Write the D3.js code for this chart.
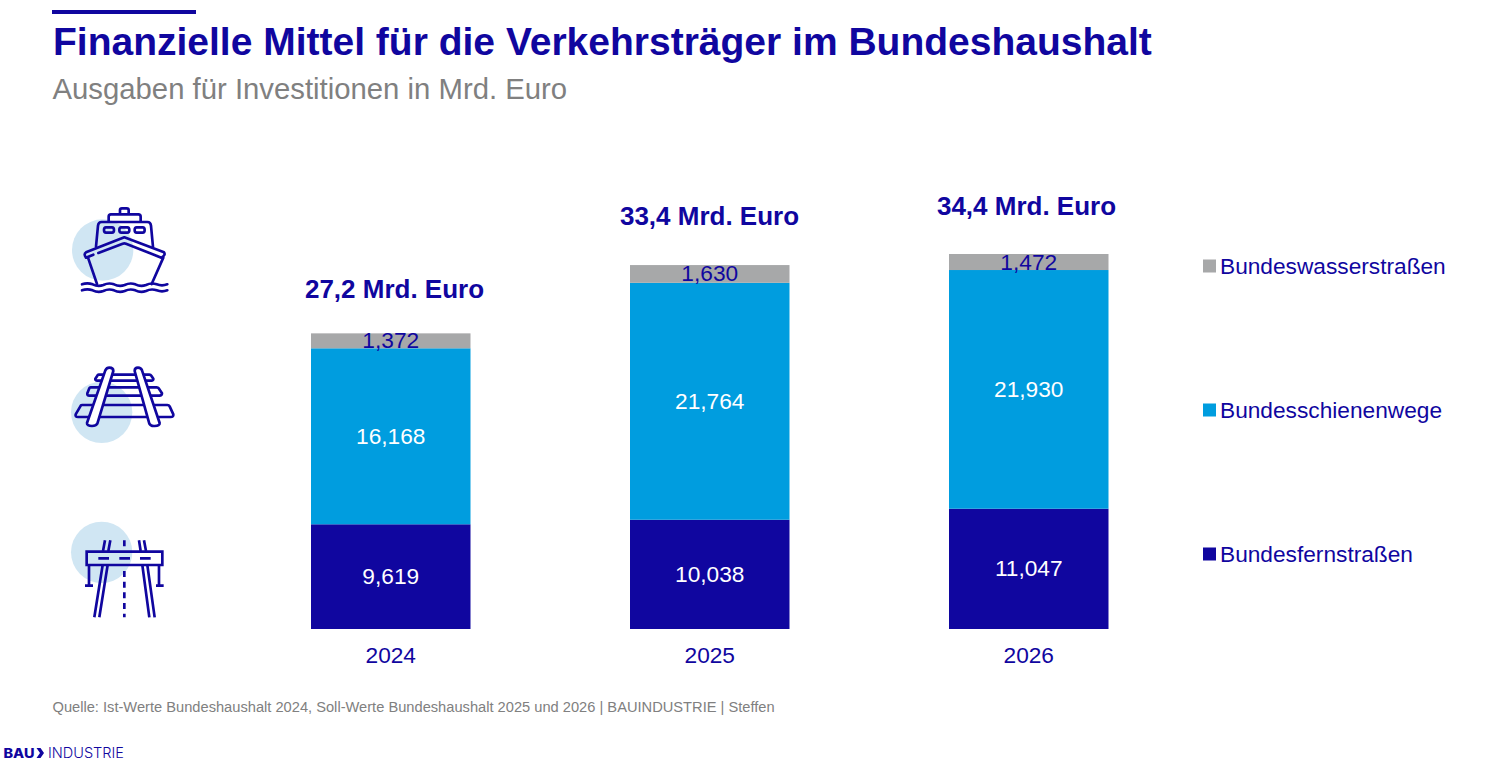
<!DOCTYPE html>
<html>
<head>
<meta charset="utf-8">
<script src="https://cdn.jsdelivr.net/npm/d3@7"></script>
<style>
  html, body { margin: 0; padding: 0; background: #fff; }
  svg { display: block; font-family: "Liberation Sans", Arial, sans-serif; }
</style>
</head>
<body>
<svg id="chart" width="1497" height="775"></svg>
<script>
var years = ["2024", "2025", "2026"]
var fernstrassen = [9619, 10038, 11047]
var schienenwege = [16168, 21764, 21930]
var wasserstrassen = [1372, 1630, 1472]
var totalLabels = ["27,2 Mrd. Euro", "33,4 Mrd. Euro", "34,4 Mrd. Euro"]
var seriesNames = ["Bundesfernstraßen", "Bundesschienenwege", "Bundeswasserstraßen"]

var navy = "#10069f", sky = "#009ddf", grey = "#a7a8a9", muted = "#808080", pale = "#d0e6f3"
var seriesColors = [navy, sky, grey]
var labelColors = ["#fff", "#fff", navy]

// total labels are hand placed in the original, not quite centered
var totalGaps = [35, 40, 39]
var totalShift = [3.75, -0.25, -2.25]
var legendY = [554, 410, 266]

var svg = d3.select("#chart")

var rows = years.map(function(y, i) {
  return { year: y, s0: fernstrassen[i], s1: schienenwege[i], s2: wasserstrassen[i] }
})
var stacked = d3.stack().keys(["s0", "s1", "s2"])(rows)

var x = d3.scaleBand().domain(years).range([231.25, 1188.25]).paddingInner(0.5).paddingOuter(0.25)
var y = d3.scaleLinear().domain([0, 35000]).range([629, 248])

// header
svg.append("rect").attr("x", 52).attr("y", 10).attr("width", 144).attr("height", 4).attr("fill", navy)
svg.append("text").attr("x", 53).attr("y", 55).attr("fill", navy)
  .style("font-size", "39px").style("font-weight", "bold")
  .text("Finanzielle Mittel für die Verkehrsträger im Bundeshaushalt")
svg.append("text").attr("x", 52.5).attr("y", 99).attr("fill", muted)
  .style("font-size", "29.3px")
  .text("Ausgaben für Investitionen in Mrd. Euro")

// stacked bars
var layers = svg.selectAll("g.layer").data(stacked).enter().append("g").attr("class", "layer")

layers.selectAll("rect")
  .data(function(d) { return d.map(function(p) { return { p: p, key: d.key } }) })
  .enter().append("rect")
  .attr("x", function(d) { return x(d.p.data.year) })
  .attr("width", x.bandwidth())
  .attr("y", function(d) { return y(d.p[1]) })
  .attr("height", function(d) { return y(d.p[0]) - y(d.p[1]) })
  .attr("fill", function(d) { return seriesColors[d.key.slice(1)] })

layers.selectAll("text")
  .data(function(d) { return d.map(function(p) { return { p: p, key: d.key } }) })
  .enter().append("text")
  .attr("x", function(d) { return x(d.p.data.year) + x.bandwidth() / 2 })
  .attr("y", function(d) { return (y(d.p[0]) + y(d.p[1])) / 2 })
  .attr("dy", ".33em")
  .attr("text-anchor", "middle")
  .attr("fill", function(d) { return labelColors[d.key.slice(1)] })
  .style("font-size", "22.7px")
  .text(function(d) { return d3.format(",")(d.p[1] - d.p[0]) })

// totals on top
svg.selectAll("text.total").data(rows).enter().append("text")
  .attr("class", "total")
  .attr("x", function(d, i) { return x(d.year) + x.bandwidth() / 2 + totalShift[i] })
  .attr("y", function(d, i) { return y(d.s0 + d.s1 + d.s2) - totalGaps[i] })
  .attr("text-anchor", "middle")
  .attr("fill", navy)
  .style("font-size", "26px").style("font-weight", "bold")
  .text(function(d, i) { return totalLabels[i] })

// x axis, labels only
var axis = svg.append("g").attr("transform", "translate(0,629)")
  .call(d3.axisBottom(x).tickSize(0).tickPadding(18))
axis.select(".domain").remove()
axis.selectAll("text").attr("fill", navy).style("font-size", "22.7px").style("font-family", "inherit")

// legend
var leg_keys = svg.selectAll("g.key").data(seriesNames).enter().append("g")
  .attr("class", "key")
  .attr("transform", function(d, i) { return "translate(1203," + legendY[i] + ")" })
leg_keys.append("rect").attr("y", -6.5).attr("width", 13).attr("height", 13)
  .attr("fill", function(d, i) { return seriesColors[i] })
leg_keys.append("text").attr("x", 17).attr("dy", ".33em").attr("fill", navy)
  .style("font-size", "22.7px")
  .text(function(d) { return d })

// source + logo
svg.append("text").attr("x", 52.5).attr("y", 712).attr("fill", muted)
  .style("font-size", "14.66px")
  .text("Quelle: Ist-Werte Bundeshaushalt 2024, Soll-Werte Bundeshaushalt 2025 und 2026 | BAUINDUSTRIE | Steffen")

svg.append("text").attr("x", 3.5).attr("y", 758).attr("fill", navy)
  .style("font-family", "Inter").style("font-size", "13.5px").style("font-weight", "800")
  .attr("textLength", 31).attr("lengthAdjust", "spacingAndGlyphs").text("BAU")
svg.append("path").attr("d", "M36.5 748 L40 753 L36.5 758 H40.5 L44 753 L40.5 748 Z").attr("fill", navy)
svg.append("text").attr("x", 48).attr("y", 758).attr("fill", navy)
  .style("font-family", "Inter").style("font-size", "14px").style("font-weight", "300")
  .attr("textLength", 76).attr("lengthAdjust", "spacingAndGlyphs").text("INDUSTRIE")

// icons, path coords in 3x pixels of a 130px tile
function icon(tx, ty, cx, cy, draw) {
  var g = svg.append("g").attr("transform", "translate(" + tx + "," + ty + ") scale(0.3333)")
  g.append("circle").attr("cx", cx).attr("cy", cy).attr("r", 92).attr("fill", pale)
  var lines = g.append("g").attr("fill", "none").attr("stroke", navy).attr("stroke-width", 8)
    .attr("stroke-linejoin", "round").attr("stroke-linecap", "round")
  draw(lines)
}

function paths(g, list) {
  list.forEach(function(d) { g.append("path").attr("d", d) })
}

icon(60, 195, 128, 165, function(g) {
  paths(g, [
    "M180 56 V45 Q180 40 186 40 H200 Q206 40 206 45 V56",
    "M146 78 V65 Q146 58 153 58 H235 Q242 58 242 65 V78",
    "M108 155 L114 92 Q115 81 125 81 H262 Q272 81 273 92 L279 156",
    "M138 97 H156 Q162 97 162 105 Q162 113 156 113 H138 Q132 113 132 105 Q132 97 138 97 Z",
    "M184 97 H202 Q208 97 208 105 Q208 113 202 113 H184 Q178 113 178 105 Q178 97 184 97 Z",
    "M230 97 H248 Q254 97 254 105 Q254 113 248 113 H230 Q224 113 224 105 Q224 97 230 97 Z",
    "M193 127 L78 172 Q70 177 78 188 L100 179 M115 174 L188 146 Q193 144 198 146 L304 188 Q318 180 312 172 L193 127",
    "M84 188 L111 267 M310 188 L275 267",
    "M66 268 Q82 262 98 268 Q114 276 130 270 Q146 262 162 268 Q178 276 194 270 Q210 262 226 268 Q242 276 258 270 Q274 262 290 268 Q306 274 322 268",
    "M66 286 Q82 280 98 286 Q114 294 130 288 Q146 280 162 286 Q178 294 194 288 Q210 280 226 286 Q242 294 258 288 Q274 280 290 286 Q306 292 322 286"
  ])
})

icon(60, 355, 125, 172, function(g) {
  paths(g, [
    "M116 59 H268 Q272 59 274 62 L280 71 Q281 77 274 77 H112 Q105 77 106 71 L112 62 Q113 59 116 59 Z",
    "M92 97 H290 Q294 97 296 100 L306 115 Q306 122 298 122 H88 Q81 122 82 115 L88 100 Q89 97 92 97 Z",
    "M66 150 H322 Q327 150 329 154 L340 178 Q341 186 332 186 H54 Q45 186 47 178 L61 154 Q62 150 66 150 Z"
  ])
  g.append("path").attr("fill", "#fff")
    .attr("d", "M148 38 Q160 38 160 48 L112 206 Q108 213 96 213 Q80 212 81 204 L136 46 Q140 38 148 38 Z")
  g.append("path").attr("fill", "#fff")
    .attr("d", "M234 38 Q224 38 224 48 L268 206 Q272 214 284 213 Q300 212 299 204 L246 46 Q243 38 234 38 Z")
})

icon(60, 515, 125, 112, function(g) {
  g.attr("stroke-linecap", "butt").attr("stroke-linejoin", "miter")
  paths(g, [
    "M135 76 L129 108 M151 76 L145 108 M237 76 L242 108 M252 76 L258 108",
    "M80 110 H307 V150 H80 Z",
    "M115 130 H147 M178 130 H210 M240 130 H272",
    "M87 150 V212 M75 212 H99 M297 150 V212 M288 212 H311",
    "M128 150 L103 307 M143 150 L118 307 M247 150 L268 307 M262 150 L284 307"
  ])
  g.append("path").attr("d", "M193 76 V94 M193 168 V307").attr("stroke-dasharray", "18 14")
})
</script>
</body>
</html>
